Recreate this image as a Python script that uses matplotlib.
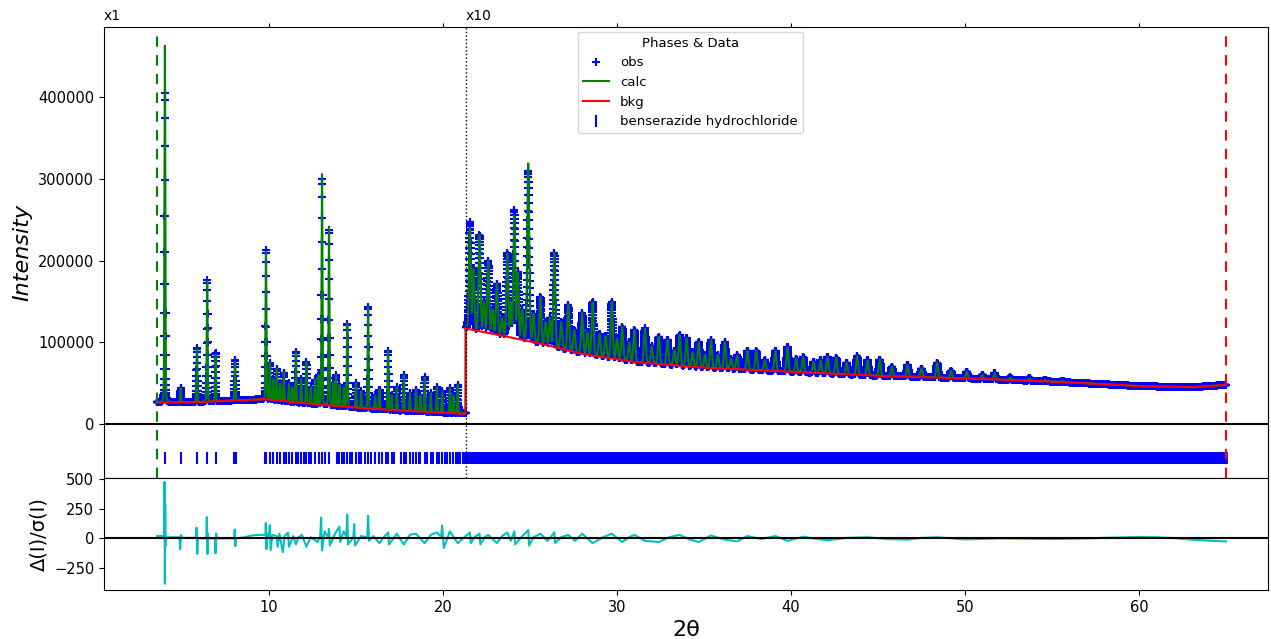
import numpy as np
import matplotlib.pyplot as plt
from matplotlib.transforms import blended_transform_factory

# peak list (2theta, displayed height of obs / calc)
low_pos = [4.02, 4.93, 5.86, 6.45, 6.93, 8.05, 9.83, 10.05, 10.25, 10.45, 10.65, 10.85,
           11.15, 11.35, 11.55, 11.85, 12.15, 12.4, 12.65, 12.85, 13.05, 13.45, 13.7,
           13.85, 14.05, 14.3, 14.5, 15.0, 15.3, 15.7, 16.1, 16.35, 16.85, 17.05, 17.35,
           17.75, 18.1, 18.45, 18.7, 18.95, 19.3, 19.65, 19.95, 20.4, 20.6, 20.85]
low_obs = [405000, 44000, 93000, 176000, 87000, 78000, 213000, 75000, 55000, 68000, 50000, 63000,
           50000, 45000, 88000, 55000, 76000, 45000, 54000, 60000, 300000, 238000, 50000,
           60000, 48000, 45000, 123000, 50000, 40000, 143000, 35000, 42000, 90000, 35000, 45000,
           60000, 38000, 42000, 35000, 57000, 38000, 45000, 40000, 44000, 35000, 48000]
low_calc = [463000, 44000, 92000, 175000, 85000, 76000, 211000, 75000, 55000, 68000, 50000, 63000,
            50000, 45000, 88000, 55000, 76000, 45000, 54000, 60000, 306000, 241000, 50000,
            60000, 48000, 45000, 123000, 50000, 40000, 143000, 35000, 42000, 90000, 35000, 45000,
            60000, 38000, 42000, 35000, 57000, 38000, 45000, 40000, 44000, 35000, 48000]

high_pos = [21.55, 21.75, 22.1, 22.35, 22.6, 22.85, 23.1, 23.4, 23.7, 23.9, 24.1, 24.3, 24.55,
            24.9, 25.2, 25.6, 25.9, 26.15, 26.4, 26.8, 27.2, 27.55, 28.0, 28.3, 28.6, 29.0,
            29.35, 29.7, 30.0, 30.3, 30.7, 31.0, 31.6, 32.0, 32.4, 32.9, 33.3, 33.6, 34.0,
            34.35, 34.7, 35.05, 35.4, 35.8, 36.2, 36.55, 36.9, 37.5, 38.0, 38.5, 39.1, 39.8,
            40.3, 40.7, 41.3, 41.7, 42.1, 42.6, 43.2, 43.8, 44.4, 45.1, 45.8, 46.7, 47.5,
            48.4, 49.2, 50.1, 51.0, 51.7, 52.6, 53.7, 54.6, 55.6, 57.0, 59.1]
high_obs = [247000, 190000, 231000, 150000, 200000, 140000, 172000, 130000, 209000, 150000, 262000,
            186000, 140000, 310000, 135000, 155000, 125000, 130000, 210000, 125000, 146000, 115000,
            136000, 112000, 149000, 110000, 108000, 149000, 105000, 119000, 100000, 115000, 117000,
            95000, 107000, 103000, 90000, 109000, 105000, 88000, 100000, 85000, 103000, 85000,
            100000, 80000, 84000, 90000, 90000, 78000, 90000, 94000, 80000, 82000, 76000, 78000,
            82000, 81000, 75000, 83000, 78000, 79000, 70000, 72000, 68000, 75000, 65000, 64000,
            60000, 62000, 57000, 56000, 54000, 53000, 50000, 48000]
high_calc = [240000, 190000, 231000, 150000, 200000, 140000, 172000, 130000, 209000, 150000, 255000,
             186000, 140000, 319000, 135000, 155000, 125000, 130000, 210000, 125000, 146000, 115000,
             136000, 112000, 149000, 110000, 108000, 149000, 105000, 119000, 100000, 115000, 117000,
             95000, 107000, 103000, 90000, 109000, 105000, 88000, 100000, 85000, 103000, 85000,
             100000, 80000, 84000, 90000, 90000, 78000, 90000, 94000, 80000, 82000, 76000, 78000,
             82000, 81000, 75000, 83000, 78000, 79000, 70000, 72000, 68000, 75000, 65000, 64000,
             60000, 62000, 57000, 56000, 54000, 53000, 50000, 48000]

# background knots (x1 part and x10 part)
bkg_low_x = [3.56, 6.0, 9.8, 12.0, 15.0, 17.5, 21.3]
bkg_low_y = [26500, 27000, 30500, 25500, 20000, 16500, 12500]
bkg_high_x = [21.3, 23.0, 25.5, 28.0, 31.0, 35.0, 40.0, 45.0, 50.0, 55.0, 60.0, 63.0, 65.0]
bkg_high_y = [117000, 110000, 99000, 86000, 76000, 69000, 64000, 59000, 56000, 52000, 46500, 45000, 48000]

# reflection tick positions
refl_low = [4.02, 4.93, 5.86, 6.45, 6.93, 8.02, 8.1, 9.77, 9.83, 10.05, 10.25, 10.45, 10.65,
            10.85, 11.0, 11.15, 11.35, 11.55, 11.65, 11.85, 12.0, 12.15, 12.3, 12.4, 12.65,
            12.85, 13.05, 13.2, 13.45, 13.9, 14.05, 14.2, 14.3, 14.5, 14.65, 14.8, 15.0, 15.15,
            15.3, 15.5, 15.7, 15.85, 16.1, 16.35, 16.5, 16.7, 16.85, 17.05, 17.2, 17.6, 17.75,
            17.9, 18.1, 18.3, 18.45, 18.6, 18.7, 18.95, 19.1, 19.3, 19.45, 19.65, 19.8, 19.95,
            20.1, 20.25, 20.4, 20.6, 20.75, 20.85, 21.0, 21.15]
refl_high = [21.45, 21.6, 21.9, 22.2, 22.5, 22.8, 23.1, 23.4, 23.7, 24.0, 24.3, 24.6, 24.9, 25.3,
             25.7, 26.1, 26.5, 26.9, 27.3, 27.7, 28.1, 28.5, 28.9, 29.3, 29.7, 30.1, 30.5, 30.9,
             31.3, 31.7, 32.1, 32.5, 32.9, 33.3, 33.7, 34.1, 34.5, 34.9, 35.3, 35.7, 36.1, 36.5,
             36.9, 37.3, 37.7, 38.1, 38.5, 38.9, 39.3, 39.7, 40.1, 40.5, 40.9, 41.3, 41.7, 42.1,
             42.5, 42.9, 43.3, 43.7, 44.1, 44.5, 44.9, 45.3, 45.7, 46.1, 46.5, 46.9, 47.3, 47.7,
             48.1, 48.5, 48.9, 49.3, 49.7, 50.1, 50.5, 50.9, 51.3, 51.7, 52.1, 52.5, 52.9, 53.3,
             53.7, 54.1, 54.5, 54.9, 55.3, 55.7, 56.1, 56.5, 56.9, 57.3, 57.7, 58.1, 58.5, 58.9,
             59.3, 59.7, 60.1, 60.5, 60.9, 61.3, 61.7, 62.1, 62.5, 62.9, 63.3, 63.7, 64.1, 64.5,
             64.85]

# difference curve vertices
resid_x = [3.56, 3.9, 3.98, 4.0, 4.02, 4.04, 4.06, 4.1, 4.85, 4.9, 4.95, 5.0, 5.8, 5.84, 5.88,
           5.92, 6.4, 6.43, 6.47, 6.5, 6.52, 6.9, 6.93, 6.97, 7.0, 8.0, 8.03, 8.07, 8.1, 8.6,
           9.0, 9.5, 9.8, 9.82, 9.86, 9.9, 10.0, 10.05, 10.1, 10.2, 10.45, 10.5, 10.6, 10.8,
           10.9, 11.1, 11.15, 11.4, 11.55, 11.7, 11.9, 12.15, 12.4, 12.8, 12.95, 13.0, 13.05,
           13.2, 13.4, 13.45, 13.5, 13.8, 14.05, 14.1, 14.3, 14.45, 14.5, 14.55, 14.85, 14.9,
           14.95, 15.3, 15.65, 15.7, 15.75, 16.0, 16.35, 16.6, 16.85, 16.9, 17.35, 17.75,
           18.1, 18.45, 18.95, 19.3, 19.65, 19.9, 19.95, 20.05, 20.4, 20.85, 21.3, 21.55,
           21.6, 21.8, 22.1, 22.15, 22.4, 22.6, 23.1, 23.4, 23.7, 23.9, 24.1, 24.15, 24.5,
           24.9, 24.95, 25.2, 25.6, 26.0, 26.4, 26.45, 26.8, 27.2, 27.6, 28.0, 28.6, 29.2,
           29.7, 30.3, 30.7, 31.0, 31.6, 32.4, 33.0, 33.6, 34.2, 34.7, 35.4, 36.2, 36.9, 37.5,
           38.3, 39.1, 39.8, 40.7, 41.5, 42.1, 43.2, 44.4, 45.5, 46.7, 47.5, 48.4, 50.0, 52.0,
           55.0, 57.0, 58.0, 60.0, 61.0, 62.0, 63.0, 64.0, 65.0]
resid_y = [20, 20, 0, 475, -380, 283, -60, 10, 10, -90, 30, 5, 5, 90, -130,
           0, 0, 180, -130, 40, 0, 0, -125, 40, 0, 0, 75, -65, 0, 10,
           25, 30, 30, 130, -90, 40, 20, 110, -100, 30, 20, -70, 40, -115,
           20, 50, -70, 20, -50, 10, 30, -70, 10, -30, 20, 175, -100,
           60, 10, 80, -60, 40, 100, -30, 60, 10, 200, -50, 10, 120,
           -60, 20, 10, 190, -20, 20, -40, 10, 50, -50, 40, -50,
           30, 40, -40, 30, 50, 10, 110, -80, 60, -40, 20, 50,
           -40, 10, 40, -50, 10, 30, -40, 20, 50, -20, 60, -50, 10,
           70, -60, 10, 40, -20, 50, -40, 10, 30, -20, 40, -40, 10,
           40, -30, 10, 30, -20, -30, 10, 30, -10, -30, 25, -10, -25, 20,
           -5, 20, -20, 15, -5, -15, 5, 10, -5, -10, 5, 10, -8, 0,
           -5, 0, 5, 12, 10, 3, -10, -18, -25]

split = 21.3
lo_lim, hi_lim = 3.56, 65.0

tth = np.arange(lo_lim, hi_lim, 0.005)
bkg = np.where(tth < split,
               np.interp(tth, bkg_low_x, bkg_low_y),
               np.interp(tth, bkg_high_x, bkg_high_y))


def profile(pos, heights, sig):
    """envelope of pseudo-voigt peaks (above bkg) that reach the read heights"""
    env = np.zeros_like(tth)
    for p, h in zip(pos, heights):
        b0 = np.interp(p, bkg_low_x, bkg_low_y) if p < split else np.interp(p, bkg_high_x, bkg_high_y)
        d = (tth - p) / sig
        shape = 0.85 * np.exp(-0.5 * d ** 2) + 0.15 / (1 + (d / 1.18) ** 2)
        env = np.maximum(env, (h - b0) * shape)
    return env


obs = bkg + np.maximum(profile(low_pos, low_obs, 0.025), profile(high_pos, high_obs, 0.055))
calc = bkg + np.maximum(profile(low_pos, low_calc, 0.025), profile(high_pos, high_calc, 0.055))

fig = plt.figure(figsize=(12.71, 6.39), dpi=100)
ax = fig.add_axes([0.0818, 0.252, 0.9158, 0.7057])
axr = fig.add_axes([0.0818, 0.0767, 0.9158, 0.1753], sharex=ax)

ax.plot(tth, obs, '+', color='b', ms=6, mew=1.5, label='obs')
ax.plot(tth, calc, color='g', lw=1.5, label='calc')
ax.plot(tth, bkg, color='r', lw=1.5, label='bkg')
ax.plot(refl_low, np.full(len(refl_low), -41600), '|', color='b', ms=9, mew=1.5,
        label='benserazide hydrochloride')
ax.plot(refl_high, np.full(len(refl_high), -41600), '|', color='b', ms=9, mew=7)

ax.axhline(0, color='k', lw=1.5)
ax.axvline(lo_lim, color='g', ls='--', lw=1.5, dashes=(5, 4))
ax.axvline(hi_lim, color='r', ls='--', lw=1.5, dashes=(5, 4))
ax.axvline(split, color='k', ls=':', lw=1)

trans = blended_transform_factory(ax.transData, ax.transAxes)
ax.text(0.52, 1.01, 'x1', transform=trans, fontsize=10, va='bottom', ha='left')
ax.text(split, 1.01, 'x10', transform=trans, fontsize=10, va='bottom', ha='left')

ax.set_xlim(0.52, 67.41)
ax.set_ylim(-66000, 486000)
ax.set_yticks([0, 100000, 200000, 300000, 400000])
ax.set_ylabel('Intensity', fontsize=16, style='italic')
ax.tick_params(axis='x', labelbottom=False, top=True, length=3)
ax.tick_params(axis='y', labelsize=10.5)
ax.legend(title='Phases & Data', loc='upper left', bbox_to_anchor=(0.407, 0.99),
          borderaxespad=0, fontsize=9.5, title_fontsize=9.5)

axr.plot(resid_x, resid_y, color='c', lw=1.5)
axr.axhline(0, color='k', lw=1.5)
axr.set_ylim(-433, 508)
axr.set_yticks([-250, 0, 250, 500])
axr.set_ylabel('Δ(I)/σ(I)', fontsize=14)
axr.set_xlabel('2θ', fontsize=16)
axr.tick_params(labelsize=10.5)

fig.savefig('out.png', dpi=100)
